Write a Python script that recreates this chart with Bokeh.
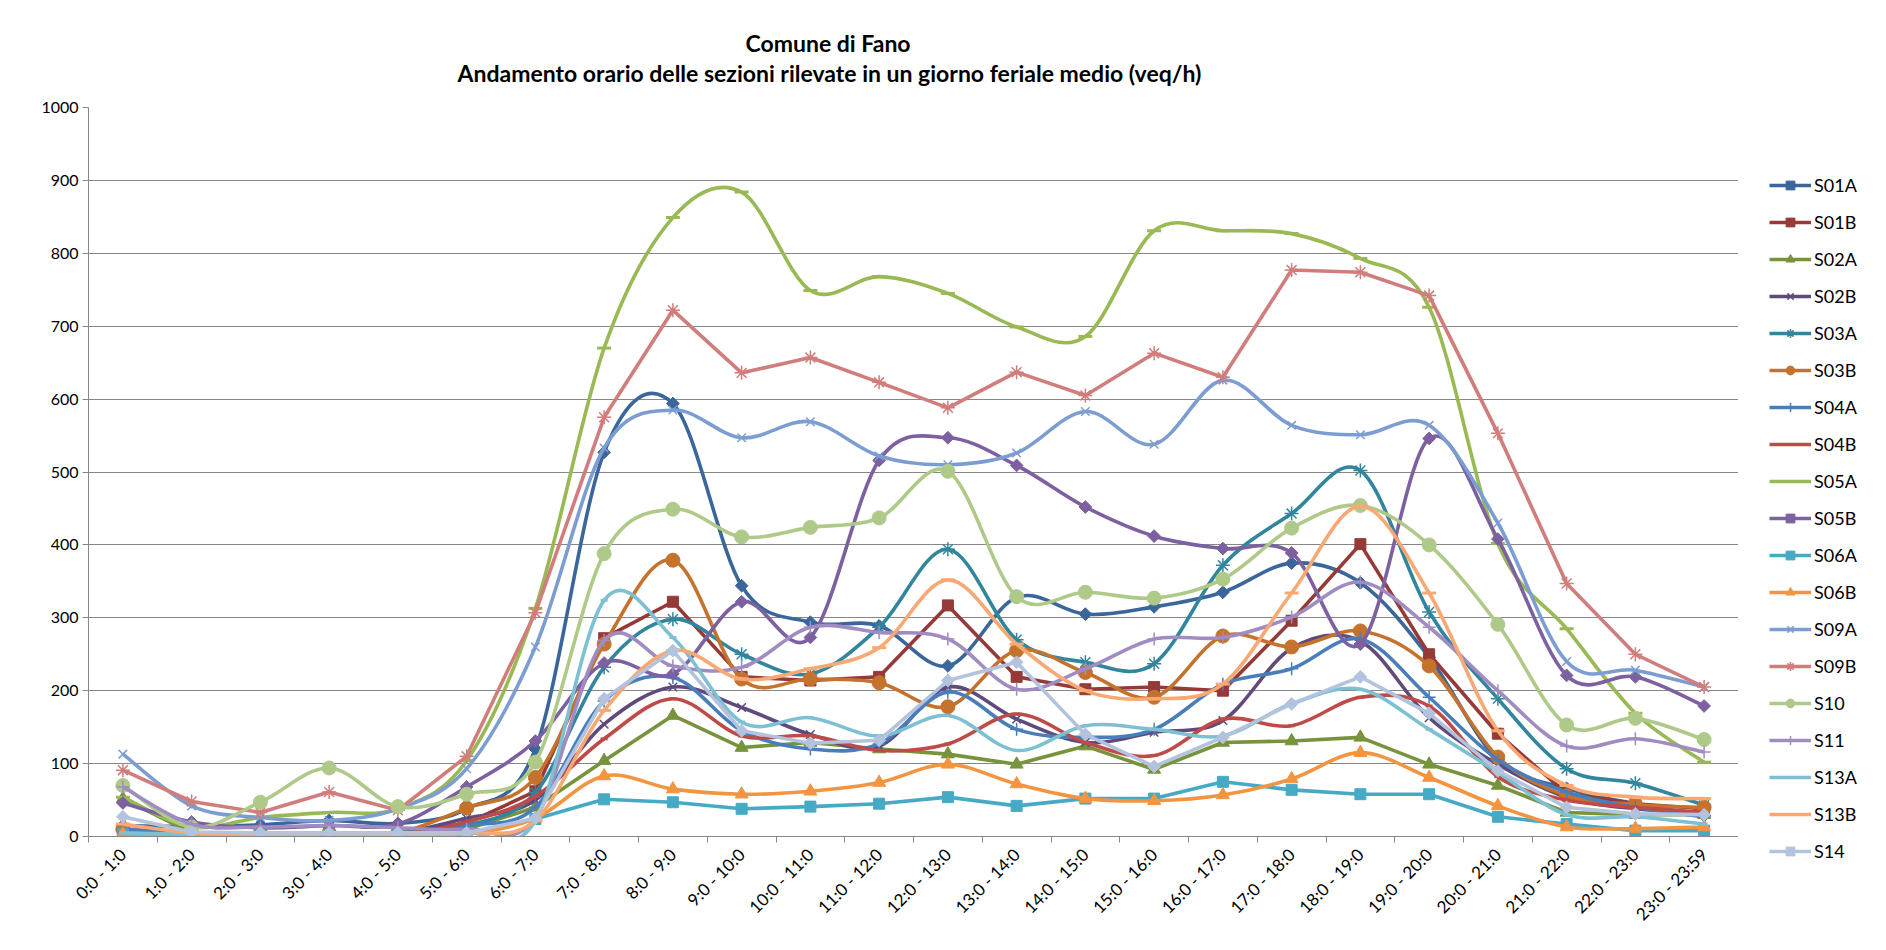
from math import pi
from bokeh.plotting import figure
from bokeh.layouts import row, column
from bokeh.models import ColumnDataSource, FixedTicker, Legend, LegendItem, Range1d, Title
from bokeh.embed import file_html
from bokeh.resources import INLINE

hours = ["0:0 - 1:0", "1:0 - 2:0", "2:0 - 3:0", "3:0 - 4:0", "4:0 - 5:0", "5:0 - 6:0",
         "6:0 - 7:0", "7:0 - 8:0", "8:0 - 9:0", "9:0 - 10:0", "10:0 - 11:0", "11:0 - 12:0",
         "12:0 - 13:0", "13:0 - 14:0", "14:0 - 15:0", "15:0 - 16:0", "16:0 - 17:0", "17:0 - 18:0",
         "18:0 - 19:0", "19:0 - 20:0", "20:0 - 21:0", "21:0 - 22:0", "22:0 - 23:0", "23:0 - 23:59"]

S01A = [15, 14, 16, 22, 18, 38, 120, 527, 594, 344, 294, 289, 234, 328, 305, 315, 335, 375, 348, 246, 105, 66, 45, 29]
S01B = [8, 3, 5, 5, 5, 18, 62, 272, 322, 219, 214, 219, 317, 219, 202, 205, 200, 296, 401, 250, 141, 59, 45, 38]
S02A = [52, 5, 5, 5, 5, 10, 40, 104, 166, 122, 129, 120, 113, 99, 124, 92, 129, 131, 136, 99, 70, 33, 30, 30]
S02B = [5, 5, 5, 5, 5, 25, 50, 154, 205, 177, 140, 124, 205, 161, 129, 143, 159, 258, 268, 163, 99, 54, 38, 33]
S03A = [8, 5, 5, 5, 5, 15, 60, 232, 298, 250, 223, 287, 394, 270, 239, 237, 372, 443, 502, 308, 189, 93, 73, 43]
S03B = [10, 5, 5, 5, 5, 39, 81, 264, 379, 216, 216, 211, 178, 255, 225, 191, 275, 260, 282, 234, 109, 56, 44, 40]
S04A = [10, 5, 5, 5, 5, 15, 40, 186, 218, 145, 120, 127, 198, 147, 136, 147, 209, 230, 271, 191, 105, 61, 40, 27]
S04B = [5, 3, 3, 3, 3, 20, 55, 134, 189, 138, 138, 118, 127, 168, 129, 111, 161, 152, 191, 179, 82, 50, 40, 33]
S05A = [54, 13, 26, 33, 38, 104, 313, 670, 849, 884, 749, 768, 745, 699, 686, 831, 831, 827, 793, 726, 402, 285, 169, 102]
S05B = [46, 20, 12, 15, 17, 68, 131, 238, 223, 322, 273, 516, 547, 509, 452, 412, 395, 389, 264, 546, 408, 221, 219, 179]
S06A = [3, 2, 2, 2, 2, 3, 24, 51, 47, 38, 41, 45, 54, 42, 52, 52, 75, 64, 58, 58, 27, 17, 8, 8]
S06B = [3, 0, 0, 0, 0, 3, 25, 83, 65, 58, 62, 74, 99, 72, 52, 49, 57, 79, 115, 81, 42, 13, 11, 13]
S09A = [113, 42, 26, 22, 38, 93, 260, 533, 585, 547, 569, 522, 510, 526, 583, 538, 626, 564, 551, 564, 430, 240, 228, 205]
S09B = [91, 48, 33, 61, 36, 110, 307, 575, 722, 636, 657, 623, 588, 637, 605, 663, 630, 777, 774, 742, 553, 347, 250, 205]
S10 = [70, 13, 47, 94, 41, 58, 102, 388, 449, 411, 424, 437, 501, 329, 335, 327, 353, 423, 454, 400, 291, 153, 162, 133]
S11 = [68, 17, 13, 15, 12, 10, 25, 269, 234, 232, 287, 280, 271, 202, 230, 271, 273, 301, 349, 287, 200, 124, 134, 116]
S13A = [5, 3, 3, 3, 3, 5, 22, 324, 273, 157, 163, 138, 166, 118, 152, 147, 138, 182, 202, 147, 88, 30, 27, 17]
S13B = [17, 5, 2, 2, 2, 5, 22, 173, 255, 216, 230, 259, 352, 264, 200, 189, 209, 334, 453, 334, 145, 70, 54, 52]
S14 = [27, 6, 5, 5, 5, 5, 25, 189, 255, 145, 128, 132, 214, 239, 140, 96, 136, 182, 219, 169, 90, 40, 31, 30]

series_names = ["S01A", "S01B", "S02A", "S02B", "S03A", "S03B", "S04A", "S04B", "S05A", "S05B",
                "S06A", "S06B", "S09A", "S09B", "S10", "S11", "S13A", "S13B", "S14"]
series_values = [S01A, S01B, S02A, S02B, S03A, S03B, S04A, S04B, S05A, S05B,
                 S06A, S06B, S09A, S09B, S10, S11, S13A, S13B, S14]

# style: colour, marker, smoothed line
STYLE = {
    "S01A": ("#3A669B", "diamond", True),
    "S01B": ("#963A38", "square", False),
    "S02A": ("#77933C", "triangle", False),
    "S02B": ("#604A7B", "x", True),
    "S03A": ("#31859C", "asterisk", True),
    "S03B": ("#C5722D", "circle", True),
    "S04A": ("#4A7EBB", "cross", True),
    "S04B": ("#BE4B48", "shortdash", True),
    "S05A": ("#98B954", "longdash", True),
    "S05B": ("#7D60A0", "diamond", True),
    "S06A": ("#46AAC5", "square", False),
    "S06B": ("#F39441", "triangle", True),
    "S09A": ("#7C9DD2", "x", True),
    "S09B": ("#D07D7B", "asterisk", False),
    "S10": ("#AFCA88", "circle", True),
    "S11": ("#A08CC0", "cross", True),
    "S13A": ("#7DC0D3", "shortdash", True),
    "S13B": ("#F8A872", "longdash", True),
    "S14": ("#B3C3DE", "diamond", False),
}
MARKERS = {
    "diamond": dict(marker="square", size=9, angle=pi / 4, line_width=1),
    "square": dict(marker="square", size=11, angle=0, line_width=1),
    "triangle": dict(marker="triangle", size=13, angle=0, line_width=1),
    "x": dict(marker="x", size=12, angle=0, line_width=1.5),
    "asterisk": dict(marker="asterisk", size=14, angle=0, line_width=1.5),
    "circle": dict(marker="circle", size=14, angle=0, line_width=1),
    "cross": dict(marker="cross", size=13, angle=0, line_width=1.5),
    "shortdash": dict(marker="dash", size=7, angle=0, line_width=3),
    "longdash": dict(marker="dash", size=14, angle=0, line_width=3),
}
LINE_W = 3.6

xs = list(range(len(hours)))


def bezier_source(vals):
    n = len(vals)
    d = dict(x0=[], y0=[], x1=[], y1=[], cx0=[], cy0=[], cx1=[], cy1=[])
    for i in range(n - 1):
        a = max(i - 1, 0)
        b = min(i + 2, n - 1)
        d["x0"].append(xs[i]); d["y0"].append(vals[i])
        d["x1"].append(xs[i + 1]); d["y1"].append(vals[i + 1])
        d["cx0"].append(xs[i] + (xs[i + 1] - xs[a]) / 6)
        d["cy0"].append(vals[i] + (vals[i + 1] - vals[a]) / 6)
        d["cx1"].append(xs[i + 1] - (xs[b] - xs[i]) / 6)
        d["cy1"].append(vals[i + 1] - (vals[b] - vals[i]) / 6)
    return ColumnDataSource(d)


p = figure(width=1738, height=934, x_range=Range1d(-0.5, 23.5), y_range=Range1d(0, 1000),
           output_backend="svg", toolbar_location=None,
           min_border_left=88, min_border_right=0, min_border_top=107, min_border_bottom=98)
p.outline_line_color = None
p.background_fill_color = "white"
p.border_fill_color = "white"

GRAY = "#878787"
p.xgrid.grid_line_color = None
p.ygrid.grid_line_color = GRAY
p.ygrid.grid_line_width = 1.2
p.yaxis.ticker = FixedTicker(ticks=list(range(0, 1001, 100)))
p.yaxis.axis_line_color = GRAY
p.yaxis.major_tick_line_color = GRAY
p.yaxis.major_tick_out = 6
p.yaxis.major_tick_in = 0
p.yaxis.minor_tick_line_color = None
p.yaxis.major_label_standoff = 4
p.yaxis.major_label_text_font = "Lato"
p.yaxis.major_label_text_font_size = "16px"
p.yaxis.major_label_text_color = "#000000"

p.xaxis.ticker = FixedTicker(ticks=xs, minor_ticks=[i - 0.5 for i in range(len(hours) + 1)])
p.xaxis.major_label_overrides = {i: h for i, h in enumerate(hours)}
p.xaxis.major_label_orientation = pi / 4
p.xaxis.axis_line_color = GRAY
p.xaxis.major_tick_line_color = None
p.xaxis.major_tick_out = 0
p.xaxis.major_tick_in = 0
p.xaxis.minor_tick_line_color = GRAY
p.xaxis.minor_tick_out = 6
p.xaxis.minor_tick_in = 0
p.xaxis.major_label_standoff = 9
p.xaxis.major_label_text_font = "Lato"
p.xaxis.major_label_text_font_size = "17px"
p.xaxis.major_label_text_color = "#000000"

# legend lives in its own narrow figure to the right of the chart;
# its renderers hold the same data but lie outside that figure's visible range
pl = figure(width=142, height=934, x_range=Range1d(-2, -1), y_range=Range1d(-2, -1),
            output_backend="svg", toolbar_location=None, min_border=0,
            x_axis_location=None, y_axis_location=None)
pl.outline_line_color = None
pl.grid.visible = False
pl.background_fill_color = "white"
pl.border_fill_color = "white"

items = []
for name, vals in zip(series_names, series_values):
    color, mk, smooth = STYLE[name]
    m = MARKERS[mk]
    if smooth:
        p.bezier(x0="x0", y0="y0", x1="x1", y1="y1", cx0="cx0", cy0="cy0", cx1="cx1", cy1="cy1",
                 source=bezier_source(vals), line_color=color, line_width=LINE_W)
    else:
        p.line(xs, vals, line_color=color, line_width=LINE_W, line_join="round")
    p.scatter(xs, vals, marker=m["marker"], size=m["size"], angle=m["angle"],
              fill_color=color, line_color=color, line_width=m["line_width"])
    lr = pl.line(xs, vals, line_color=color, line_width=LINE_W)
    sr = pl.scatter(xs, vals, marker=m["marker"], size=m["size"], angle=m["angle"],
                    fill_color=color, line_color=color, line_width=m["line_width"])
    items.append(LegendItem(label=name, renderers=[lr, sr]))

legend = Legend(items=items, location=(31, 72), orientation="vertical",
                glyph_width=42, glyph_height=22, label_height=22, spacing=15,
                label_standoff=3, padding=0, margin=0, border_line_color=None,
                background_fill_alpha=0, label_text_font="Lato", label_text_font_size="18px",
                label_text_color="#000000")
pl.add_layout(legend)

t0 = Title(text=" ", align="left", text_font_size="10px", standoff=8)
p.add_layout(t0, "above")
t2 = Title(text="Andamento orario delle sezioni rilevate in un giorno feriale medio (veq/h)",
           align="left", offset=369, text_font="Lato", text_font_style="bold",
           text_font_size="23px", text_color="#000000", standoff=0)
p.add_layout(t2, "above")
t1 = Title(text="Comune di Fano", align="left", offset=657, text_font="Lato",
           text_font_style="bold", text_font_size="23px", text_color="#000000", standoff=0)
p.add_layout(t1, "above")

open("out.html", "w").write(file_html(row(p, column(pl)), INLINE))
